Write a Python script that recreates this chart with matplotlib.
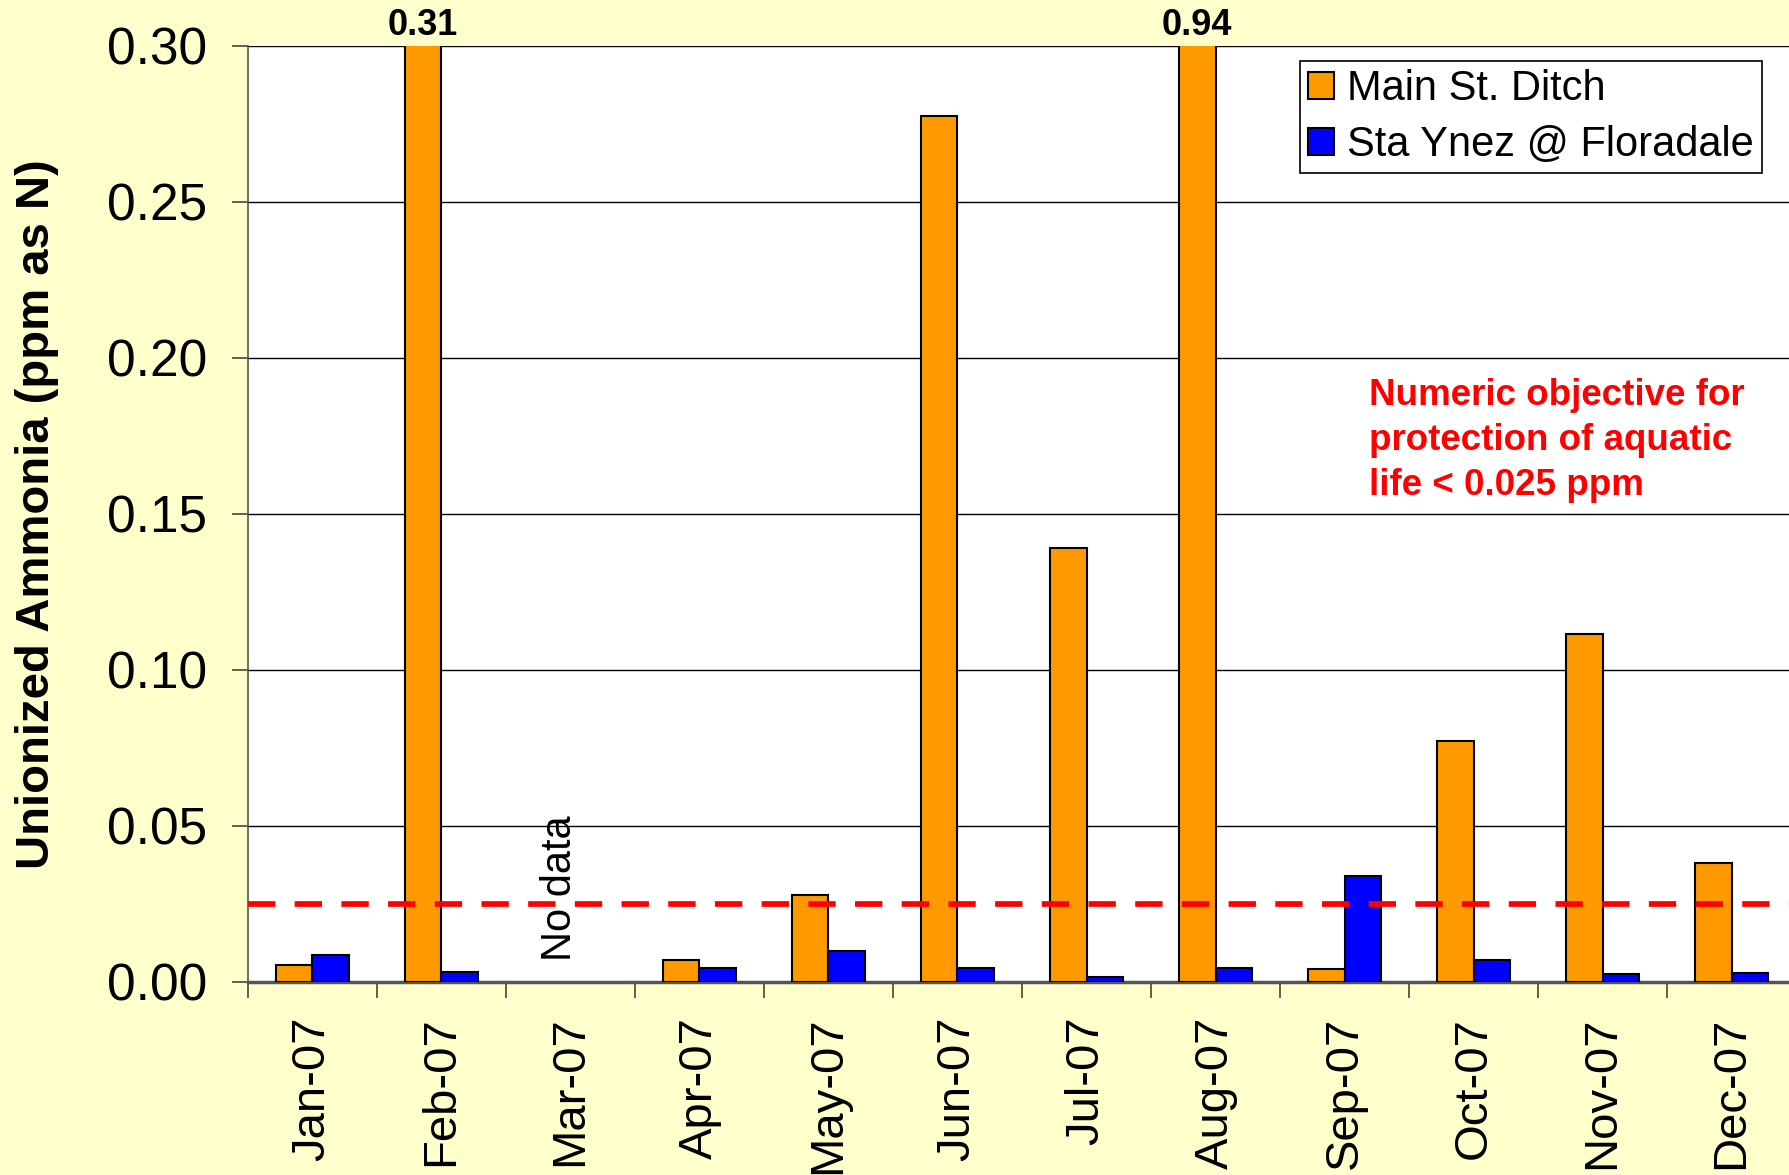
import numpy as np
import matplotlib
matplotlib.use("Agg")
import matplotlib.pyplot as plt
from matplotlib.patches import Patch

plt.rcParams['font.family'] = ['Liberation Sans', 'DejaVu Sans']

# monthly unionized ammonia, ppm as N (None = not sampled)
months = ["Jan-07", "Feb-07", "Mar-07", "Apr-07", "May-07", "Jun-07",
          "Jul-07", "Aug-07", "Sep-07", "Oct-07", "Nov-07", "Dec-07"]
main_st = [0.0054, 0.31, None, 0.0071, 0.028, 0.2775,
           0.139, 0.94, 0.0041, 0.0772, 0.1115, 0.038]
sta_ynez = [0.0085, 0.0032, None, 0.0045, 0.0100, 0.0044,
            0.0017, 0.0045, 0.034, 0.0069, 0.0026, 0.0029]
objective = 0.025
ymax = 0.30

bg = "#FFFFCC"
orange = "#FF9900"
blue = "#0000FF"

fig = plt.figure(figsize=(17.9, 11.75), dpi=100, facecolor=bg)
ax = fig.add_axes([0.1385, 0.1643, 0.8649, 0.7968])
ax.set_facecolor("white")

x = np.arange(len(months))
w = 0.286
m_vals = np.array([np.nan if v is None else v for v in main_st])
s_vals = np.array([np.nan if v is None else v for v in sta_ynez])

ax.bar(x - w / 2, m_vals, w, color=orange, edgecolor="black", linewidth=1.5, zorder=3)
ax.bar(x + w / 2, s_vals, w, color=blue, edgecolor="black", linewidth=1.5, zorder=3)

# off-scale bars get their value written on top
for i, v in enumerate(m_vals):
    if not np.isnan(v) and v > ymax:
        ax.annotate(f"{v:.2f}", (x[i] - w / 2, ymax), xytext=(0, 2),
                    textcoords="offset points", ha="center", va="bottom",
                    fontsize=26, fontweight="bold", annotation_clip=False)

ax.axhline(objective, color="#FF0000", linewidth=4.1, dashes=(4.8, 3.4), zorder=4)

ax.text(2 - 0.08, 0.0067, "No data", rotation=90, ha="center", va="bottom",
        fontsize=30)
ax.text(0.7243, 0.645, "Numeric objective for\nprotection of aquatic\nlife < 0.025 ppm",
        transform=ax.transAxes, color="#FF0000", fontsize=26.5, fontweight="bold",
        ha="left", va="top", linespacing=1.37)

ax.set_xlim(-0.5, len(months) - 0.5)
ax.set_ylim(0, ymax)
ax.set_yticks(np.arange(0, ymax + 0.001, 0.05))
ax.set_yticklabels([f"{t:.2f}" for t in np.arange(0, ymax + 0.001, 0.05)])
ax.yaxis.grid(True, color="black", linewidth=1.0, zorder=0)
ax.set_axisbelow(True)

ax.set_xticks(x)
ax.set_xticklabels(months, rotation=90, va="top", ha="center")
ax.set_xticks(np.arange(-0.5, len(months)), minor=True)
ax.tick_params(axis="x", which="major", length=0, pad=25, labelsize=34)
ax.tick_params(axis="x", which="minor", length=11.5, width=1.2, color="#444444")
ax.tick_params(axis="y", length=11.5, width=1.2, pad=18, labelsize=37, color="#444444")

for side in ["top", "right"]:
    ax.spines[side].set_visible(False)
ax.spines["left"].set_color("#555555")
ax.spines["left"].set_linewidth(1.2)
ax.spines["bottom"].set_color("#555555")
ax.spines["bottom"].set_linewidth(2.5)

ax.set_ylabel("Unionized Ammonia (ppm as N)", fontsize=34, fontweight="bold",
              labelpad=0)
ax.yaxis.set_label_coords(-0.122, 0.5)

handles = [Patch(facecolor=orange, edgecolor="black", linewidth=1.5),
           Patch(facecolor=blue, edgecolor="black", linewidth=1.5)]
leg = ax.legend(handles, ["Main St. Ditch", "Sta Ynez @ Floradale"],
                loc="upper left", bbox_to_anchor=(0.6796, 0.9842), borderaxespad=0,
                fontsize=30, handlelength=0.62, handleheight=0.62,
                handletextpad=0.3, labelspacing=0.38, borderpad=0.2,
                fancybox=False, framealpha=1, edgecolor="black")
leg.get_frame().set_linewidth(1.2)

fig.savefig("out.png", dpi=100, facecolor=bg)
